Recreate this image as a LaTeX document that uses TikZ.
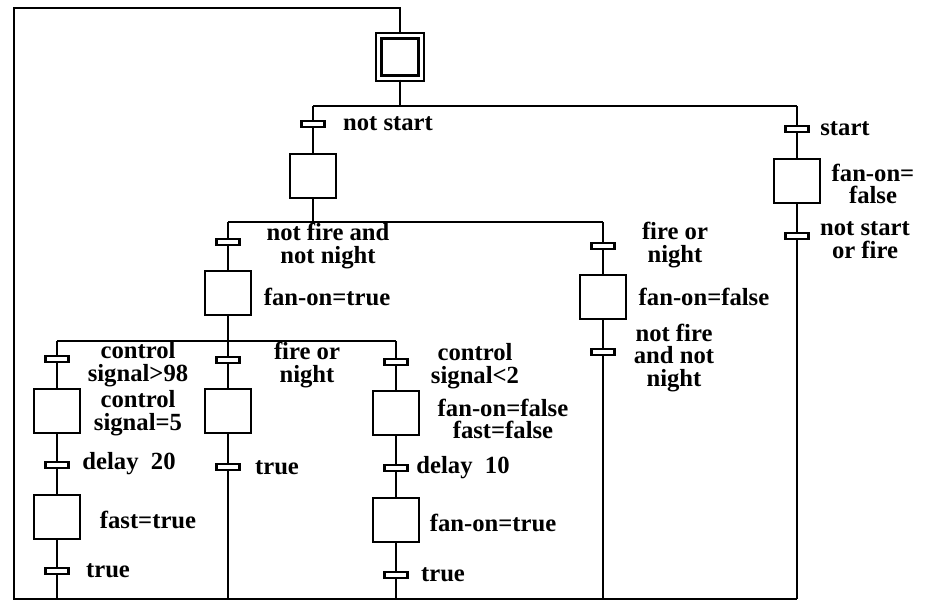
\documentclass[tikz,border=0pt]{standalone}
\usepackage{fontspec}
\setmainfont{Liberation Serif}
\usetikzlibrary{positioning}

\begin{document}
\begin{tikzpicture}[x=0.75pt,y=-0.75pt,
  stp/.style={draw,line width=2.2pt,minimum width=34.5pt,minimum height=33pt,inner sep=0pt},
  init/.style={draw,double,double distance=2.4pt,line width=1.8pt,minimum size=32pt,inner sep=0pt},
  tr/.style={draw,fill=white,line width=1.8pt,minimum width=17.5pt,minimum height=4.6pt,inner sep=0pt},
  lbl/.style={align=center,inner sep=0pt,font=\fontsize{18.5}{17}\selectfont\bfseries},
  ln/.style={line width=2.2pt}]
\useasboundingbox (0,0) rectangle (927,604);
\node[init] (s0) at (400,57) {};
\coordinate (j1) at (400,106); \coordinate (j1l) at (313,106); \coordinate (j1r) at (797,106);
\node[tr] (t1) at (313,124) {}; \node[lbl] (l1) at (388,124) {not start};
\node[stp] (s1) at (313,176) {};
\coordinate (j2) at (313,222); \coordinate (j2l) at (228,222); \coordinate (j2r) at (603,222);
\node[tr] (t2) at (228,242) {}; \node[lbl] (l2) at (328,246) {not fire and\\not night};
\node[stp] (s2) at (228,293) {}; \node[lbl] (a2) at (327,297) {fan-on=true};
\coordinate (j3) at (228,341); \coordinate (j3l) at (57,341); \coordinate (j3r) at (396,341);
\node[tr] (tA1) at (57,359) {}; \node[lbl] (lA1) at (138,364) {control\\signal>98};
\node[stp] (sA1) at (57,411) {}; \node[lbl] (aA1) at (138,413) {control\\signal=5};
\node[tr] (tA2) at (57,465) {}; \node[lbl] (lA2) at (129,464) {delay\ \ 20};
\node[stp] (sA2) at (57,517) {}; \node[lbl] (aA2) at (148,520) {fast=true};
\node[tr] (tA3) at (57,571) {}; \node[lbl] (lA3) at (108,571) {true};
\node[tr] (tB1) at (228,360) {}; \node[lbl] (lB1) at (307,365) {fire or\\night};
\node[stp] (sB1) at (228,411) {};
\node[tr] (tB2) at (228,467) {}; \node[lbl] (lB2) at (277,468) {true};
\node[tr] (tC1) at (396,362) {}; \node[lbl] (lC1) at (475,366) {control\\signal<2};
\node[stp] (sC1) at (396,413) {}; \node[lbl] (aC1) at (503,419) {fan-on=false\\fast=false};
\node[tr] (tC2) at (396,468) {}; \node[lbl] (lC2) at (463,468) {delay\ \ 10};
\node[stp] (sC2) at (396,520) {}; \node[lbl] (aC2) at (493,523) {fan-on=true};
\node[tr] (tC3) at (396,575) {}; \node[lbl] (lC3) at (443,575) {true};
\node[tr] (tD1) at (603,246) {}; \node[lbl] (lD1) at (675,245) {fire or\\night};
\node[stp] (sD1) at (603,297) {}; \node[lbl] (aD1) at (704,297) {fan-on=false};
\node[tr] (tD2) at (603,352) {}; \node[lbl] (lD2) at (674,358) {not fire\\and not\\night};
\node[tr] (tE1) at (797,129) {}; \node[lbl] (lE1) at (845,129) {start};
\node[stp] (sE1) at (797,181) {}; \node[lbl] (aE1) at (873,184) {fan-on=\\false};
\node[tr] (tE2) at (797,236) {}; \node[lbl] (lE2) at (865,240) {not start\\or fire};
\coordinate (bA) at (57,599); \coordinate (bB) at (228,599); \coordinate (bC) at (396,599);
\coordinate (bD) at (603,599); \coordinate (bE) at (797,599);
\coordinate (b0) at (14,599); \coordinate (c0) at (14,8); \coordinate (c1) at (400,8);
\draw[ln] (s0)--(j1); \draw[ln] (j1l)--(j1r);
\draw[ln] (j1l)--(t1)--(s1)--(j2); \draw[ln] (j2l)--(j2r);
\draw[ln] (j2l)--(t2)--(s2)--(j3); \draw[ln] (j3l)--(j3r);
\draw[ln] (j3l)--(tA1)--(sA1)--(tA2)--(sA2)--(tA3)--(bA);
\draw[ln] (j3)--(tB1)--(sB1)--(tB2)--(bB);
\draw[ln] (j3r)--(tC1)--(sC1)--(tC2)--(sC2)--(tC3)--(bC);
\draw[ln] (j2r)--(tD1)--(sD1)--(tD2)--(bD);
\draw[ln] (j1r)--(tE1)--(sE1)--(tE2)--(bE);
\draw[ln] (bE)--(b0)--(c0)--(c1)--(s0);
\end{tikzpicture}
\end{document}
